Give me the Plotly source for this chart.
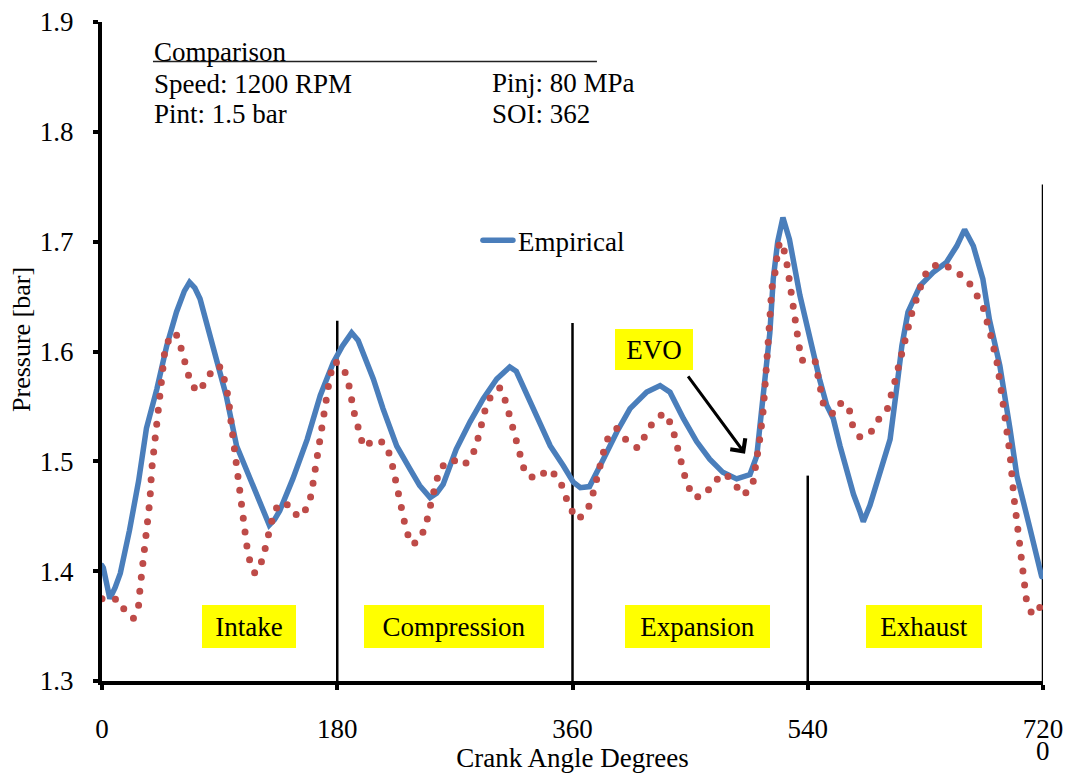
import plotly.graph_objects as go

# Empirical (blue) crank angle / pressure readings
emp_deg = [0, 1, 6, 10, 14, 21, 28, 34, 42, 49.5, 57, 63, 67, 71, 75, 85, 95, 103, 113, 123, 128, 132, 136,
           146, 157, 167, 177, 184, 191, 196, 200, 207.6, 215, 225.5, 235.7, 243, 251, 256, 261, 271, 281.6,
           291.7, 302, 312, 317, 322, 332.6, 343, 353, 360.6, 366, 373, 383.6, 394, 404, 416.8, 427, 434.6,
           444.8, 455, 465, 475, 485.6, 495.8, 501, 504, 507, 511, 513.6, 517, 521, 526, 534, 544, 549, 554.5,
           559.5, 564.7, 569.8, 575, 580, 582.5, 587.6, 595, 603, 608.3, 612, 616.7, 626, 636, 646, 654, 660,
           666.7, 674, 679, 687, 694.7, 700, 710, 717.7, 719]
emp_p = [1.405, 1.403, 1.375, 1.385, 1.398, 1.437, 1.482, 1.530, 1.566, 1.605, 1.636, 1.655, 1.663, 1.658,
         1.648, 1.605, 1.560, 1.514, 1.484, 1.454, 1.442, 1.447, 1.455, 1.484, 1.520, 1.560, 1.590, 1.605,
         1.617, 1.610, 1.598, 1.575, 1.548, 1.514, 1.493, 1.478, 1.467, 1.471, 1.479, 1.511, 1.536, 1.557,
         1.575, 1.586, 1.582, 1.569, 1.539, 1.514, 1.496, 1.481, 1.476, 1.477, 1.502, 1.527, 1.548, 1.563,
         1.569, 1.563, 1.539, 1.518, 1.502, 1.490, 1.484, 1.488, 1.505, 1.540, 1.575, 1.617, 1.666, 1.700,
         1.722, 1.702, 1.651, 1.599, 1.575, 1.551, 1.539, 1.514, 1.490, 1.470, 1.454, 1.445, 1.460, 1.490,
         1.520, 1.569, 1.605, 1.636, 1.660, 1.672, 1.681, 1.696, 1.711, 1.696, 1.666, 1.629, 1.587, 1.530,
         1.487, 1.439, 1.400, 1.395]

# Model (red dotted) readings
mod_deg = [0, 5, 12, 17.6, 24, 28, 29, 31.6, 34, 36.7, 38, 40.5, 43, 45.7, 48, 52, 55, 58, 61, 64, 67, 72.4,
           79.6, 85, 88, 91.6, 93.6, 96.7, 99, 102, 104, 107, 110.7, 113, 117, 122.7, 126, 128.5, 131, 135.4,
           144, 150, 156.6, 160, 163.7, 166.8, 170.6, 174.5, 178, 184.6, 188.5, 192.8, 198.7, 200, 209, 217,
           221, 226, 230.5, 233, 237.7, 243.8, 248, 253.5, 256, 260, 267.6, 277, 284, 287.5, 293, 297, 304.5,
           309, 314.7, 320, 324, 333, 341.5, 350, 354, 357.5, 363.7, 371, 374.7, 380.5, 386, 394, 401.4, 410,
           416.7, 421.8, 430, 436, 441.7, 447.4, 453, 461.4, 467.7, 476.7, 483, 490.7, 497.8, 500, 503.4, 506,
           507.3, 508.5, 511, 512.4, 515, 517.5, 520, 523.3, 525, 528.4, 531, 535, 541.7, 545.5, 547.3, 552,
           559.5, 566, 571.8, 574.3, 580, 587.6, 593.5, 601, 606.7, 612, 617, 620.7, 624.6, 628, 633.5, 643.7,
           652.6, 661.6, 668, 673.8, 680, 685, 690, 694.7, 697.8, 700.3, 703, 705.6, 707.5, 712, 719, 720]
mod_p = [1.375, 1.373, 1.375, 1.364, 1.357, 1.369, 1.383, 1.410, 1.436, 1.465, 1.492, 1.519, 1.548, 1.575,
         1.600, 1.614, 1.617, 1.614, 1.602, 1.588, 1.575, 1.563, 1.572, 1.585, 1.587, 1.585, 1.572, 1.558,
         1.533, 1.504, 1.477, 1.450, 1.424, 1.410, 1.398, 1.410, 1.424, 1.437, 1.451, 1.462, 1.460, 1.449,
         1.457, 1.469, 1.496, 1.524, 1.551, 1.578, 1.591, 1.586, 1.572, 1.545, 1.519, 1.513, 1.520, 1.516,
         1.503, 1.477, 1.450, 1.436, 1.424, 1.430, 1.443, 1.469, 1.483, 1.495, 1.502, 1.496, 1.507, 1.520,
         1.546, 1.558, 1.567, 1.554, 1.528, 1.501, 1.488, 1.484, 1.493, 1.484, 1.472, 1.459, 1.447, 1.454,
         1.466, 1.493, 1.519, 1.530, 1.519, 1.512, 1.524, 1.536, 1.544, 1.533, 1.506, 1.480, 1.467, 1.469,
         1.481, 1.489, 1.481, 1.469, 1.478, 1.492, 1.521, 1.547, 1.575, 1.605, 1.630, 1.657, 1.672, 1.696,
         1.700, 1.686, 1.672, 1.646, 1.619, 1.592, 1.592, 1.592, 1.581, 1.552, 1.543, 1.554, 1.547, 1.533,
         1.522, 1.525, 1.537, 1.548, 1.573, 1.600, 1.627, 1.640, 1.652, 1.666, 1.677, 1.680, 1.673, 1.666,
         1.654, 1.642, 1.615, 1.589, 1.548, 1.507, 1.467, 1.439, 1.412, 1.385, 1.372, 1.360, 1.369, 1.370]

x_ticks = [0, 180, 360, 540, 720]
x_tick_text = ["0", "180", "360", "540", "720"]
y_ticks = [1.3, 1.4, 1.5, 1.6, 1.7, 1.8, 1.9]

stroke_names = ["Intake", "Compression", "Expansion", "Exhaust"]
stroke_centers = [112.5, 269.3, 455.6, 628.9]
stroke_widths = [94, 180, 145, 116]

divider_x = [180, 360, 540, 720]
divider_top = [1.628, 1.626, 1.487, 1.752]

FONT = "Liberation Serif"

fig = go.Figure()
fig.add_trace(go.Scatter(x=emp_deg, y=emp_p, mode="lines", name="Empirical",
                         line=dict(color="#4A7EBB", width=5.5)))
fig.add_trace(go.Scatter(x=mod_deg, y=mod_p, mode="lines", name="Model", showlegend=False,
                         line=dict(color="#BE4B48", width=7, dash="0px,14px")))

for dx, top in zip(divider_x, divider_top):
    fig.add_shape(type="line", x0=dx, x1=dx, y0=1.3, y1=top, xref="x", yref="y",
                  line=dict(color="black", width=2.5), layer="below")

for name, cx, w in zip(stroke_names, stroke_centers, stroke_widths):
    fig.add_annotation(x=cx, y=1.3495, xref="x", yref="y", text=name, showarrow=False,
                       font=dict(family=FONT, size=27, color="black"), bgcolor="#FFFF00",
                       width=w, height=43, borderpad=0, borderwidth=0)

# EVO label and arrow
fig.add_annotation(x=422.3, y=1.6018, xref="x", yref="y", text="EVO", showarrow=False,
                   font=dict(family=FONT, size=27, color="black"), bgcolor="#FFFF00",
                   width=78, height=41, borderpad=0, borderwidth=0)
fig.add_annotation(x=492, y=1.507, ax=447.6, ay=1.5787, xref="x", yref="y", axref="x", ayref="y",
                   text="", showarrow=True, arrowhead=4, arrowsize=1.2, arrowwidth=3, arrowcolor="black")

# Info block
info = [("Comparison", 38.2, 1.8727), ("Speed: 1200 RPM", 38.2, 1.8437), ("Pint: 1.5 bar", 38.2, 1.8165),
        ("Pinj: 80 MPa", 296.9, 1.8446), ("SOI: 362", 296.9, 1.8165)]
for txt, xx, yy in info:
    fig.add_annotation(x=xx, y=yy, xref="x", yref="y", text=txt, showarrow=False, xanchor="left",
                       yanchor="middle", font=dict(family=FONT, size=27, color="black"))
fig.add_shape(type="line", x0=39.0, x1=378.7, y0=1.864, y1=1.864, xref="x", yref="y",
              line=dict(color="#222222", width=1.5))

# second-line "0" under 720
fig.add_annotation(x=720, y=-0.081, xref="x", yref="paper", text="0", showarrow=False,
                   yanchor="top", font=dict(family=FONT, size=27, color="black"))

# y-axis title placed as annotation to match position
fig.add_annotation(x=-0.085, y=0.5175, xref="paper", yref="paper", text="Pressure [bar]",
                   xanchor="center", yanchor="middle",
                   showarrow=False, textangle=-90, font=dict(family=FONT, size=26, color="black"))

fig.update_layout(
    width=1067, height=773,
    margin=dict(l=102, r=24, t=22, b=92, autoexpand=False),
    paper_bgcolor="white", plot_bgcolor="white",
    font=dict(family=FONT, size=27, color="black"),
    legend=dict(x=0.3995, y=0.668, xanchor="left", yanchor="middle", bgcolor="rgba(0,0,0,0)",
                font=dict(family=FONT, size=27, color="black")),
    xaxis=dict(range=[0, 720], tickvals=x_ticks, ticktext=x_tick_text, showgrid=False, zeroline=False,
               showline=True, linewidth=4, linecolor="black", ticks="outside", ticklen=5, tickwidth=4,
               tickcolor="black", ticklabelstandoff=16, automargin=False,
               title=dict(text="Crank Angle Degrees", standoff=8, font=dict(family=FONT, size=27))),
    yaxis=dict(range=[1.3, 1.9], tickvals=y_ticks, tickformat=".1f", showgrid=False, zeroline=False,
               showline=True, linewidth=4, linecolor="black", ticks="outside", ticklen=5, tickwidth=4,
               tickcolor="black", ticklabelstandoff=14, automargin=False),
)

fig.write_html("out.html", config={"displayModeBar": False},
               post_script="var st=document.createElement('style');st.textContent='body{margin:0;}.js-line{stroke-linecap:round;}';document.head.appendChild(st);")
